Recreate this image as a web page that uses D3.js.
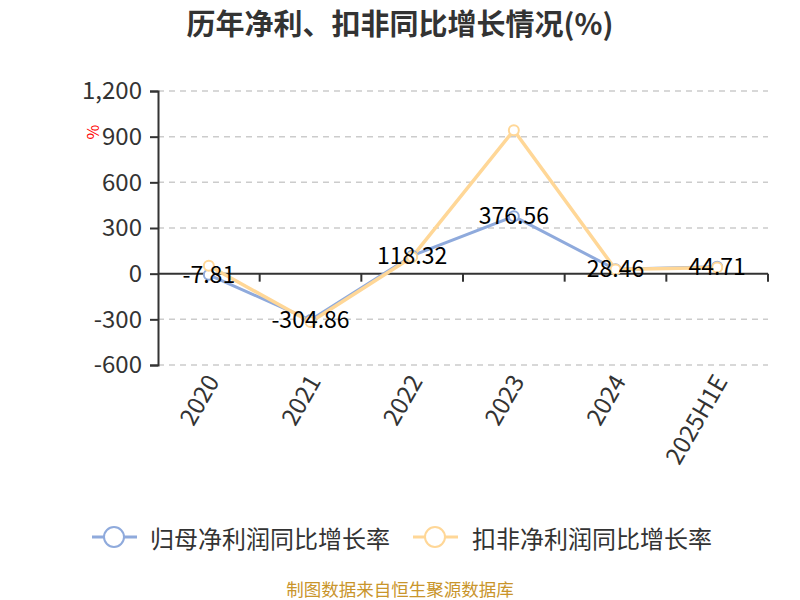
<!DOCTYPE html>
<html>
<head>
<meta charset="utf-8">
<script src="https://cdn.jsdelivr.net/npm/d3@7/dist/d3.min.js"></script>
<style>
html,body{margin:0;padding:0;background:#fff;}
svg{display:block;font-family:"Noto Sans CJK SC","Noto Sans",sans-serif;}
</style>
</head>
<body>
<svg id="chart" width="800" height="600"></svg>
<script>
const categories = ["2020","2021","2022","2023","2024","2025H1E"];
const netProfitGrowth = [-7.81, -304.86, 118.32, 376.56, 28.46, 44.71];
const deductedGrowth = [52, -318, 110, 942, 28, 40];
const yTicks = [-600, -300, 0, 300, 600, 900, 1200];
const seriesNames = ["归母净利润同比增长率", "扣非净利润同比增长率"];
const colors = ["#8FAADC", "#FFD797"];

(function () {
const svg = d3.select("#chart");
const plotLeft = 158, plotRight = 768, plotTop = 91, plotBottom = 365;

const x = d3.scaleBand().domain(categories).range([plotLeft, plotRight]);
const y = d3.scaleLinear().domain([-600, 1200]).range([plotBottom, plotTop]);
const fmt = d => d3.format(",")(d).replace("\u2212", "-");

// title
svg.append("text").attr("x", 400).attr("y", 35).attr("text-anchor", "middle")
  .attr("font-size", 29).attr("font-weight", "bold").attr("fill", "#333")
  .text("历年净利、扣非同比增长情况(%)");

// gridlines
svg.append("g").selectAll("line").data(yTicks.filter(d => d !== 0)).join("line")
  .attr("x1", plotLeft).attr("x2", plotRight)
  .attr("y1", d => y(d)).attr("y2", d => y(d))
  .attr("stroke", "#ccc").attr("stroke-width", 1.5).attr("stroke-dasharray", "6,5");

// y axis
const yAxis = d3.axisLeft(y).tickValues(yTicks).tickSize(8).tickPadding(8).tickFormat(fmt);
const gy = svg.append("g").attr("transform", `translate(${plotLeft},0)`).call(yAxis);
gy.select(".domain").attr("stroke", "#333").attr("stroke-width", 2);
gy.selectAll(".tick line").attr("stroke", "#333").attr("stroke-width", 2);
gy.selectAll(".tick text").attr("font-size", 24).attr("fill", "#333")
  .attr("font-family", "'Noto Sans CJK SC', sans-serif");

// x axis at zero
const gx = svg.append("g").attr("transform", `translate(0,${y(0)})`);
gx.append("line").attr("x1", plotLeft).attr("x2", plotRight).attr("stroke", "#333").attr("stroke-width", 2);
const boundaries = categories.map(c => x(c)).concat([plotRight]).slice(1);
gx.selectAll("line.tk").data(boundaries).join("line").attr("class", "tk")
  .attr("x1", d => d).attr("x2", d => d).attr("y1", 0).attr("y2", 8)
  .attr("stroke", "#333").attr("stroke-width", 2);

// x labels
svg.append("g").selectAll("text").data(categories).join("text")
  .attr("transform", d => `translate(${x(d) + x.bandwidth() / 2 + 4},${plotBottom + 12}) rotate(-60)`)
  .attr("text-anchor", "end").attr("dy", "0.35em")
  .attr("font-size", 24).attr("fill", "#333").text(d => d);

// unit label
svg.append("text").attr("transform", "translate(99,132) rotate(-90)")
  .attr("text-anchor", "middle").attr("font-size", 16).attr("fill", "red").text("%");

// lines
const line = d3.line().x((d, i) => x(categories[i]) + x.bandwidth() / 2).y(d => y(d));
const allSeries = [netProfitGrowth, deductedGrowth];
allSeries.forEach((s, k) => {
  svg.append("path").datum(s).attr("d", line).attr("fill", "none")
    .attr("stroke", colors[k]).attr("stroke-width", k === 0 ? 3 : 3.5)
    .attr("stroke-linejoin", "round");
});
allSeries.forEach((s, k) => {
  svg.append("g").selectAll("circle").data(s).join("circle")
    .attr("cx", (d, i) => x(categories[i]) + x.bandwidth() / 2).attr("cy", d => y(d))
    .attr("r", 5).attr("fill", "#fff").attr("stroke", colors[k]).attr("stroke-width", 2);
});

// data labels
svg.append("g").selectAll("text").data(netProfitGrowth).join("text")
  .attr("x", (d, i) => x(categories[i]) + x.bandwidth() / 2).attr("y", d => y(d) - 2)
  .attr("text-anchor", "middle").attr("dominant-baseline", "central")
  .attr("font-size", 23).attr("fill", "#000").text(d => d.toFixed(2));

// legend
const legendItems = [{x: 92, tx: 150}, {x: 413, tx: 472}];
legendItems.forEach((it, k) => {
  const g = svg.append("g");
  g.append("line").attr("x1", it.x).attr("x2", it.x + 45).attr("y1", 537).attr("y2", 537)
    .attr("stroke", colors[k]).attr("stroke-width", 3);
  g.append("circle").attr("cx", it.x + 22).attr("cy", 537).attr("r", 10)
    .attr("fill", "#fff").attr("stroke", colors[k]).attr("stroke-width", 2);
  g.append("text").attr("x", it.tx).attr("y", 537).attr("dominant-baseline", "central")
    .attr("font-size", 24).attr("fill", "#333").text(seriesNames[k]);
});

// source
svg.append("text").attr("x", 400).attr("y", 588).attr("text-anchor", "middle")
  .attr("dominant-baseline", "central")
  .attr("font-size", 17.5).attr("fill", "#C9952B").text("制图数据来自恒生聚源数据库");
})();
</script>
</body>
</html>
